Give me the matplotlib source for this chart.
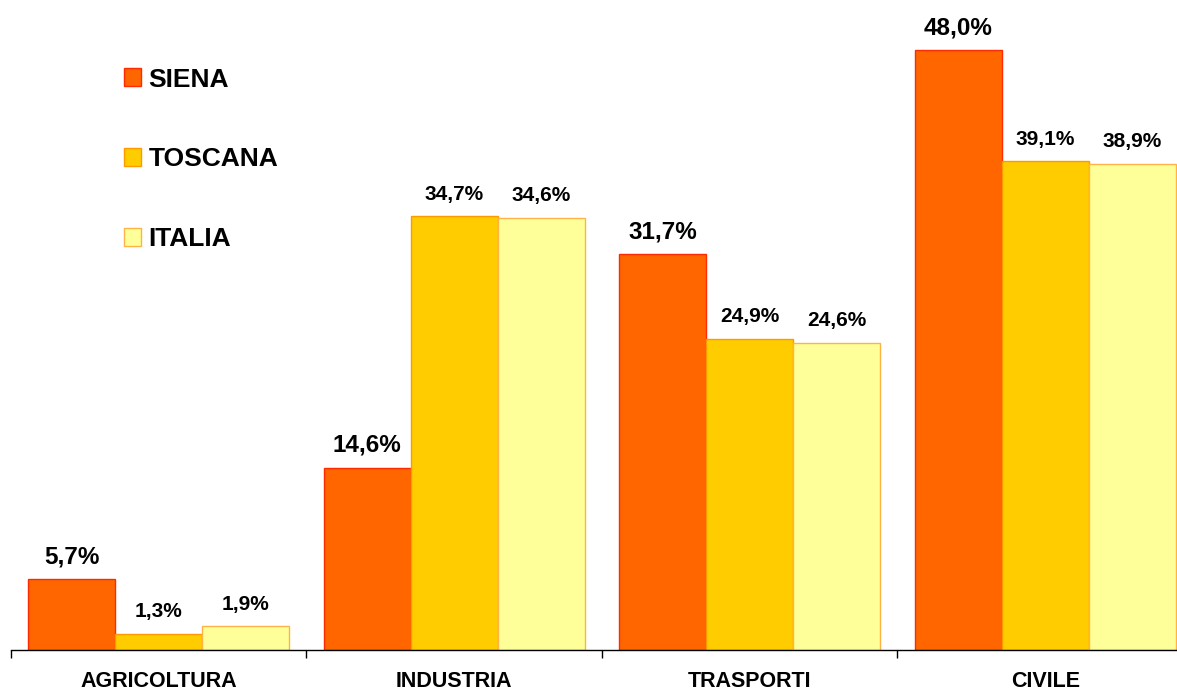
import matplotlib.pyplot as plt
import numpy as np

plt.rcParams['font.family'] = ['Liberation Sans', 'DejaVu Sans']

categories = ["AGRICOLTURA", "INDUSTRIA", "TRASPORTI", "CIVILE"]
series = ["SIENA", "TOSCANA", "ITALIA"]
siena = [5.7, 14.6, 31.7, 48.0]
toscana = [1.3, 34.7, 24.9, 39.1]
italia = [1.9, 34.6, 24.6, 38.9]

colors = ["#FF6600", "#FFCC00", "#FFFF99"]
edges = ["#FF2A00", "#FF9900", "#FFB347"]
label_sizes = [17.5, 15, 15]


def fmt(v):
    return f"{v:.1f}%".replace(".", ",")


def main():
    fig = plt.figure(figsize=(11.77, 6.9), dpi=100)
    # axis starts at x=11px, baseline at y=650px; the last group runs off the right edge
    ax = fig.add_axes([11 / 1177, 40 / 690, 1182 / 1177, 650 / 690])

    x = np.arange(len(categories))
    w = 0.294
    handles = []
    for i, vals in enumerate([siena, toscana, italia]):
        pos = x + (i - 1) * w
        b = ax.bar(pos, vals, width=w, color=colors[i], edgecolor=edges[i],
                   linewidth=1.0, label=series[i])
        handles.append(b)
        for px, v in zip(pos, vals):
            ax.annotate(fmt(v), (px, v), xytext=(0, 16), textcoords="offset points",
                        ha="center", va="center", fontsize=label_sizes[i],
                        fontweight="bold")

    ax.set_xlim(-0.5, 3.5)
    ax.set_ylim(0, 52)

    for s in ["top", "right", "left"]:
        ax.spines[s].set_visible(False)
    ax.spines["bottom"].set_linewidth(1.0)
    ax.set_yticks([])

    # category names at group centres, tick marks at group boundaries
    ax.set_xticks(x)
    ax.set_xticklabels(categories, fontsize=15.5, fontweight="bold")
    ax.tick_params(axis="x", which="major", length=0, pad=15)
    ax.set_xticks(np.arange(-0.5, 4.0, 1.0), minor=True)
    ax.tick_params(axis="x", which="minor", length=6, width=1.0, direction="out")

    leg = ax.legend(handles=handles, loc="upper left",
                    bbox_to_anchor=(102 / 1182, 1 - 57 / 650),
                    frameon=False, fontsize=19, handlelength=0.65, handleheight=0.65,
                    handletextpad=0.3, labelspacing=2.12, borderaxespad=0)
    for t in leg.get_texts():
        t.set_fontweight("bold")

    fig.savefig("out.png", dpi=100)


if __name__ == "__main__":
    main()
